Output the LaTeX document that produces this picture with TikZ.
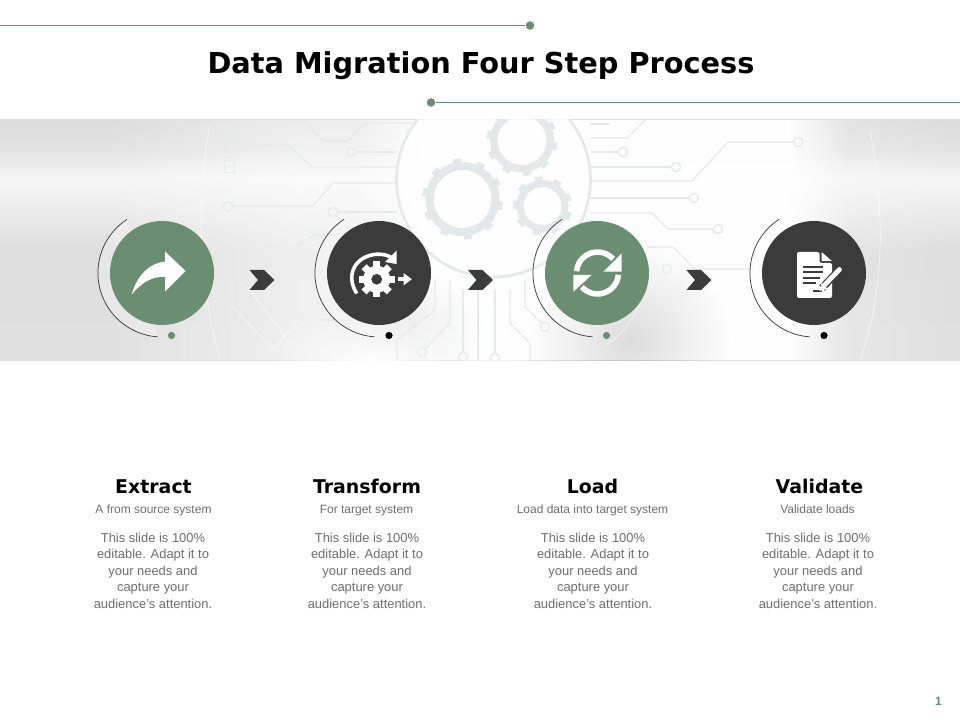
\documentclass[tikz,border=0pt]{standalone}
\usepackage{fontspec}
\setmainfont{Liberation Sans}
\newfontfamily\headfont{DejaVu Sans}
\usetikzlibrary{fadings}
\definecolor{sage}{HTML}{6B8E72}
\definecolor{ink}{HTML}{3B3B3B}
\definecolor{bodygray}{HTML}{6E6E6E}
\definecolor{gearcol}{HTML}{E3E8EA}
\definecolor{tracecol}{HTML}{E6E9EA}
\tikzfading[name=riseR, left color=transparent!100, right color=transparent!0]
\tikzfading[name=dropR, left color=transparent!0, right color=transparent!100]
\tikzfading[name=softdisc, inner color=transparent!0, outer color=transparent!100]
\tikzset{
  x=0.75pt,y=-0.75pt,
  rule/.style={draw=sage,line width=0.6pt},
  ruledot/.style={circle,fill=sage,inner sep=0pt,minimum size=6.4pt},
  trace/.style={draw=tracecol,line width=1pt,line join=round},
  traceend/.style={draw=tracecol,line width=1pt,fill=none},
  gleam/.style={draw=white,line width=.6pt,opacity=.6},
  badge/.style={circle,inner sep=0pt,minimum size=78pt},
  sagebadge/.style={badge,fill=sage},
  inkbadge/.style={badge,fill=ink},
  orbit/.style={draw=ink,line width=0.55pt},
  halo/.style={fill=white,fill opacity=.25},
  sagedot/.style={circle,fill=sage,inner sep=0pt,minimum size=5.4pt},
  inkdot/.style={circle,fill=black,inner sep=0pt,minimum size=5.4pt},
  chev/.style={fill=ink},
  heading/.style={font=\headfont\bfseries\fontsize{14.2}{16}\selectfont,text=black,anchor=base,inner sep=0pt},
  subline/.style={font=\fontsize{9}{10}\selectfont,text=bodygray,anchor=base,inner sep=0pt},
  para/.style={font=\fontsize{9.7}{12.35}\selectfont,text=bodygray,align=center,anchor=north,inner sep=0pt},
}
\newcommand{\gearring}[5]{% x y outer inner teeth
  \foreach \k in {1,...,#5}{
    \fill[gearcol,rotate around={360/#5*\k+8:(#1,#2)}] (#1-4,#2-#3-3.5) rectangle (#1+4,#2-#3+2);
  }
  \fill[gearcol,even odd rule] (#1,#2) circle[radius=#3*0.75pt] (#1,#2) circle[radius=#4*0.75pt];
}
\newcommand{\traceball}[2]{\draw[traceend] (#1,#2) circle[radius=4.6*0.75pt];}
\begin{document}
\begin{tikzpicture}
\useasboundingbox (0,0) rectangle (960,720);
\fill[white] (0,0) rectangle (960,720);
% band background
\begin{scope}
\clip (0,120) rectangle (960,360);
\shade[top color=white!86!black,bottom color=white!89!black] (0,120) rectangle (960,150);
\shade[top color=white!89!black,bottom color=white!96!black] (0,150) rectangle (960,178);
\shade[top color=white!96!black,bottom color=white!93!black] (0,178) rectangle (960,205);
\shade[top color=white!93!black,bottom color=white!87!black] (0,205) rectangle (960,250);
\shade[top color=white!87!black,bottom color=white!88!black] (0,250) rectangle (960,360);
% light sections
\fill[white,path fading=riseR,fill opacity=.5] (100,120) rectangle (300,360);
\fill[white,fill opacity=.5] (300,120) rectangle (430,360);
\fill[white,path fading=riseR,fill opacity=.9] (350,120) rectangle (430,360);
\fill[white,fill opacity=.95] (430,120) rectangle (790,360);
\fill[white,fill opacity=.2] (790,120) rectangle (850,360);
\fill[white,path fading=dropR,fill opacity=.93] (790,120) rectangle (850,360);
\fill[white,path fading=dropR,fill opacity=.2] (850,120) rectangle (960,360);
% greyer lower parts
\fill[black,path fading=softdisc,fill opacity=.13] (530,240) rectangle (730,440);
\fill[black,path fading=softdisc,fill opacity=.07] (330,270) rectangle (480,400);
\fill[white,path fading=softdisc,fill opacity=1] (265,300) rectangle (480,430);
\fill[white,path fading=softdisc,fill opacity=.8] (450,270) rectangle (540,420);
% big disc
\fill[white,fill opacity=.75] (493.5,180) circle[radius=97*0.75pt];
\draw[gearcol,line width=2pt] (493.5,180) circle[radius=97*0.75pt];
% gears
\gearring{462.5}{199}{37}{29}{10}
\gearring{522}{140.5}{32}{24.5}{10}
\gearring{542.5}{206}{26}{19}{9}
% traces, right side
\draw[trace] (591,152)--(618,152); \traceball{623}{152}
\draw[trace] (590,167)--(671,167); \traceball{676}{167}
\draw[trace] (590,181)--(692,181)--(728,142)--(793,142); \traceball{798}{142}
\draw[trace] (590,198)--(689,198); \traceball{694}{198}
\draw[trace] (590,213)--(652,213)--(668,229)--(713,229); \traceball{718}{229}
\draw[trace] (590,138)--(627,138)--(645,120);
\draw[trace] (647,247)--(673,247)--(695,269)--(753,269); \traceball{667}{269}
\draw[trace] (590,124)--(610,124);
% traces, left side
\draw[trace] (397,152)--(356,152); \traceball{351}{152}
\draw[trace] (397,167)--(312,167)--(288,145)--(247,145); \traceball{242}{145}
\draw[trace] (397,183)--(333,183)--(313,206)--(233,206); \traceball{228}{206}
\draw[trace] (397,212)--(338,212); \traceball{333}{212}
\draw[trace] (303,120)--(323,141)--(348,141)--(365,123)--(413,123);
\draw[tracecol,line width=.6pt] (226,122) rectangle (240,134) (224,141) rectangle (236,152) (224,160) rectangle (234,172);
% traces, bottom
\draw[trace] (450,280)--(450,323)--(426,348); \traceball{422}{352}
\draw[trace] (463,290)--(463,352); \traceball{463}{357}
\draw[trace] (478,290)--(478,360);
\draw[trace] (495,290)--(495,353); \traceball{495}{358}
\draw[trace] (510,290)--(510,323)--(530,343)--(530,360);
\draw[trace] (525,280)--(525,307)--(542,323); \traceball{545}{327}
\draw[trace] (397,360)--(397,340)--(435,310)--(435,280);
\draw[trace] (297,245)--(315,235)--(345,235);
\draw[trace] (320,320)--(400,320);
% gleams
\draw[gleam] (230,303)--(273,350);
\draw[gleam] (247,287) .. controls (265,310) and (280,330) .. (293,347);
\draw[gleam] (273,350)--(300,318);
\draw[gleam] (455,300) .. controls (490,310) and (525,306) .. (548,297);
\draw[gleam] (645,285) .. controls (640,310) and (625,335) .. (605,345);
\draw[gleam] (870,130) .. controls (885,210) and (885,290) .. (860,360);
\draw[gleam] (210,125) .. controls (195,200) and (200,290) .. (220,360);
\end{scope}
% top rules
\node[ruledot] (dotA) at (530,25.5) {};
\coordinate (ruleA) at (0,25.5);
\draw[rule] (ruleA) -- (dotA);
\node[ruledot] (dotB) at (431,102.5) {};
\coordinate (ruleB) at (960,102.5);
\draw[rule] (dotB) -- (ruleB);
\node[font=\headfont\bfseries\fontsize{21.6}{24}\selectfont,text=black,inner sep=0pt] (title) at (481,66) {Data Migration Four Step Process};
% badges and orbits
\foreach \cx in {162,379,597,814}{
  \fill[halo] (\cx-34.9,219.3) arc[start angle=123,end angle=266,radius=64*0.75pt] -- cycle;
  \draw[orbit] (\cx-34.9,219.3) arc[start angle=123,end angle=266,radius=64*0.75pt];
}
\node[sagebadge] (b1) at (162,273) {};
\node[inkbadge]  (b2) at (379,273) {};
\node[sagebadge] (b3) at (597,273) {};
\node[inkbadge]  (b4) at (814,273) {};
\node[sagedot] (d1) at (171.5,335.5) {};
\node[inkdot]  (d2) at (389,335.5) {};
\node[sagedot] (d3) at (606.5,335.5) {};
\node[inkdot]  (d4) at (824,335.5) {};
% chevrons
\fill[chev] (249.5,270)--(264,270)--(274.5,280)--(264,290)--(249.5,290)--(258,280)--cycle;
\fill[chev] (468,270)--(482.5,270)--(493,280)--(482.5,290)--(468,290)--(476.5,280)--cycle;
\fill[chev] (686.5,270)--(701,270)--(711.5,280)--(701,290)--(686.5,290)--(695,280)--cycle;
% icon 1: share arrow
\fill[white] (131.7,294.5) .. controls (137,275) and (150,263) .. (165,261.5) -- (165,251.5) -- (185.5,271) -- (165,291.5) -- (165,277) .. controls (152,276) and (141,283) .. cycle;
% icon 2: gear with arrows
\foreach \a in {0,45,...,315}{
  \fill[white,rotate around={\a:(376.7,279.3)}] (373.2,261.5) rectangle (380.2,270);
}
\fill[white,even odd rule] (376.7,279.3) circle[radius=13.5*0.75pt] (376.7,279.3) circle[radius=5.5*0.75pt];
\draw[white,line width=2.7pt] (356.8,293.5) .. controls (346,277) and (353,258) .. (374,254.5) .. controls (382,253.5) and (389,255) .. (393,259);
\fill[white] (396.5,250.5) -- (396.5,264) -- (385,262) -- cycle;
\fill[white] (397.5,277) rectangle (404,281.5);
\fill[white] (403.5,273) -- (411.8,279.2) -- (403.5,285.5) -- cycle;
% icon 3: sync
\draw[white,line width=4.2pt] (576.6,271.2) arc[start angle=175,end angle=42,radius=21*0.75pt];
\fill[white] (621.7,253.3) -- (621.7,271.7) -- (603.3,271.7) -- cycle;
\draw[white,line width=4.2pt] (618.4,274.8) arc[start angle=-5,end angle=-138,radius=21*0.75pt];
\fill[white] (573.3,291.7) -- (573.3,275) -- (591.7,275) -- cycle;
% icon 4: document and pencil
\fill[white,rounded corners=1.5pt] (797,252) -- (819.5,252) -- (819.5,263) -- (832,263) -- (832,298) -- (797,298) -- cycle;
\fill[white] (821.5,252) -- (832,261) -- (821.5,261) -- cycle;
\fill[ink] (803,266) rectangle (823,268);
\fill[ink] (803,271.5) rectangle (823,273.5);
\fill[ink] (803,277) rectangle (820,279);
\fill[ink] (803,282.5) rectangle (816,284.5);
\fill[ink] (813,290) rectangle (822,292);
\draw[ink,line width=5.6pt] (822,288) -- (840,269);
\draw[white,line width=3.6pt,line cap=round] (824.5,285) -- (839.5,269.5);
\fill[white] (819.5,291) -- (821.5,283) -- (827.5,288.5) -- cycle;
% headings
\node[heading] (h1) at (153.5,493) {Extract};
\node[heading] (h2) at (367,493) {Transform};
\node[heading] (h3) at (592.5,493) {Load};
\node[heading] (h4) at (819.5,493) {Validate};
\node[subline] (s1) at (153.5,513.5) {A from source system};
\node[subline] (s2) at (366.5,513.5) {For target system};
\node[subline] (s3) at (592.5,513.5) {Load data into target system};
\node[subline] (s4) at (817.5,513.5) {Validate loads};
\node[para] (p1) at (153,532.5) {This slide is 100\%\\editable. Adapt it to\\your needs and\\capture your\\audience's attention.};
\node[para] (p2) at (367,532.5) {This slide is 100\%\\editable. Adapt it to\\your needs and\\capture your\\audience's attention.};
\node[para] (p3) at (593,532.5) {This slide is 100\%\\editable. Adapt it to\\your needs and\\capture your\\audience's attention.};
\node[para] (p4) at (818,532.5) {This slide is 100\%\\editable. Adapt it to\\your needs and\\capture your\\audience's attention.};
\node[font=\bfseries\fontsize{9}{10}\selectfont,text=sage,inner sep=0pt] (pg) at (938.5,701) {1};
\end{tikzpicture}
\end{document}
